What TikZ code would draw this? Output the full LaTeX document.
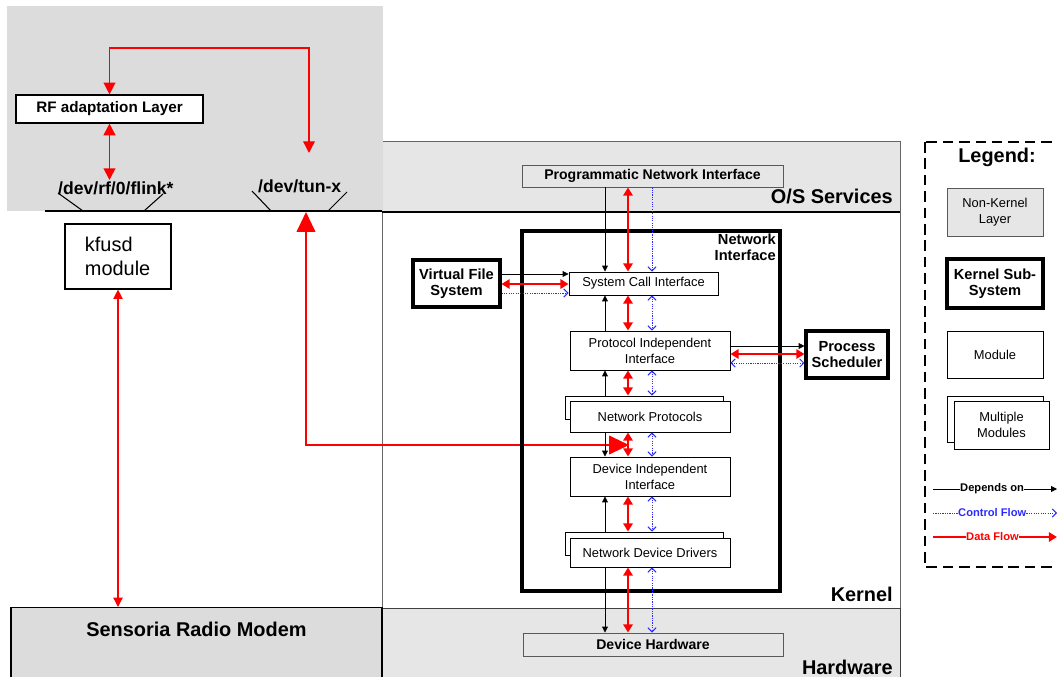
\documentclass[tikz,border=0pt]{standalone}
\usepackage{fontspec}
\setmainfont{Liberation Sans}
\usetikzlibrary{arrows.meta, positioning}

\definecolor{userspace}{HTML}{DCDCDC}
\definecolor{layergray}{HTML}{E6E6E6}
\definecolor{ctrlblue}{HTML}{2B2BFF}

\begin{document}
\begin{tikzpicture}[x=0.03cm, y=-0.03cm,
	module/.style={draw, fill=white, line width=0.8pt, inner sep=0pt, align=center, font=\fontsize{11}{13.5}\selectfont},
	subsys/.style={draw, fill=white, line width=2.6pt, inner sep=0pt, align=center, font=\fontsize{12.5}{13.5}\selectfont\bfseries},
	layerbox/.style={draw=black!65, fill=layergray, line width=0.8pt, inner sep=0pt, align=center},
	banner/.style={inner sep=0pt, font=\fontsize{17}{20}\selectfont\bfseries},
	devfile/.style={inner sep=0pt, anchor=base west, font=\fontsize{15}{17}\selectfont\bfseries},
	keytext/.style={inner sep=0pt, anchor=west, font=\fontsize{9.5}{11}\selectfont\bfseries},
	depends/.style={line width=0.7pt, -{Triangle[length=5pt,width=5pt]}},
	control/.style={ctrlblue, line width=0.8pt, dash pattern=on 1pt off 1pt, {Straight Barb[length=3.5pt,width=7pt]}-{Straight Barb[length=3.5pt,width=7pt]}},
	data/.style={red, line width=1.8pt, {Triangle[length=7pt,width=8pt]}-{Triangle[length=7pt,width=8pt]}},
	rfdata/.style={red, line width=1.3pt, {Triangle[length=10pt,width=10pt]}-{Triangle[length=10pt,width=10pt]}},
	]
	\clip (0,0) rectangle (1058,677);

	% O/S services, kernel and hardware layers
	\filldraw[fill=layergray, draw=black!60, line width=0.8pt] (382,141) rectangle (900,212);
	\draw[black!60, line width=0.8pt] (382,212) rectangle (900,608);
	\filldraw[fill=layergray, draw=black!75, line width=0.8pt] (382,608) rectangle (900,700);
	\draw[line width=0.9pt] (382,212) -- (900,212);

	% user space on top of the device files
	\fill[userspace] (7,6) rectangle (383,211);
	\draw[line width=1.1pt] (45,211) -- (382,211);

	\node[devfile] (flink) at (58,195) {/dev/rf/0/flink*};
	\node[devfile] (tunx) at (258,193) {/dev/tun-x};
	\draw[line width=0.9pt] (58,193) -- (83,211) (144,211) -- (163,194);
	\draw[line width=0.9pt] (252,191) -- (271,211) (328,211) -- (347,192);

	\node[draw, fill=white, line width=1pt, minimum width=5.61cm, minimum height=0.84cm, inner sep=0pt, font=\fontsize{13}{15}\selectfont\bfseries] (rfl) at (109.5,109) {RF adaptation Layer};
	\node[draw, fill=white, line width=1pt, minimum width=3.18cm, minimum height=1.95cm, inner xsep=0.6cm, inner ysep=0pt, text width=1.98cm, align=left, font=\fontsize{17}{20}\selectfont] (kfusd) at (118,256.5) {kfusd\\module};
	\node[anchor=north, draw, fill=userspace, line width=1.1pt, minimum width=11.13cm, inner ysep=0.45cm, text height=12pt, text depth=60pt, font=\fontsize{17}{20}\selectfont\bfseries] (modem) at (196.5,607) {Sensoria Radio Modem};

	\coordinate (looptop) at (309,48);
	\coordinate (tunin) at (309,153);
	\coordinate (flinkin) at (109.5,180);
	\coordinate (tunout) at (306,212);
	\coordinate (tunbend) at (306,445);
	\coordinate (nientry) at (629,445);

	\draw[rfdata, line width=1.2pt] (rfl.north) -- (rfl.north |- looptop) -- (looptop) -- (tunin);
	\draw[rfdata, line width=1.6pt] (rfl.south) -- (flinkin);
	\draw[rfdata, line width=1.1pt, {Triangle[length=8pt,width=8pt]}-{Triangle[length=8pt,width=8pt]}] (kfusd.south) -- (kfusd.south |- modem.north);
	\draw[red, line width=1.2pt, {Triangle[length=17pt,width=16pt]}-{Triangle[length=17pt,width=16pt]}] (tunout) -- (tunbend) -- (nientry);

	% network subsystem
	\node[draw, line width=2.8pt, minimum width=7.74cm, minimum height=10.8cm] (netif) at (651,411) {};
	\node[anchor=north east, align=right, inner sep=0pt, font=\fontsize{12.5}{13}\selectfont\bfseries] (netiflabel) at (776,234) {Network\\Interface};

	\node[layerbox, minimum width=7.83cm, minimum height=0.66cm, font=\fontsize{12}{14}\selectfont\bfseries] (pni) at (652.5,176) {Programmatic Network Interface};
	\node[layerbox, minimum width=7.8cm, minimum height=0.69cm, font=\fontsize{12}{14}\selectfont\bfseries] (dh) at (653,644.5) {Device Hardware};

	\node[subsys, minimum width=2.61cm, minimum height=1.41cm] (vfs) at (456.5,283.5) {Virtual File\\System};
	\node[subsys, minimum width=2.46cm, minimum height=1.41cm] (sched) at (847,354.5) {Process\\Scheduler};

	\node[module, minimum width=4.47cm, minimum height=0.69cm] (sci) at (643.5,283.5) {System Call Interface};
	\node[module, minimum width=4.8cm, minimum height=1.17cm] (pii) at (650,350.5) {Protocol Independent\\Interface};
	\node[module, minimum width=4.74cm, minimum height=0.69cm] (npback) at (644,407.5) {};
	\node[module, minimum width=4.8cm, minimum height=0.93cm] (np) at (650,416.5) {Network Protocols};
	\node[module, minimum width=4.8cm, minimum height=1.17cm] (dii) at (650,476.5) {Device Independent\\Interface};
	\node[module, minimum width=4.74cm, minimum height=0.69cm] (nddback) at (644,543.5) {};
	\node[module, minimum width=4.8cm, minimum height=0.87cm] (ndd) at (650,552.5) {Network Device Drivers};

	\node[banner, anchor=base east] (osserv) at (893,204) {O/S Services};
	\node[banner, anchor=base east] (kernel) at (893,601) {Kernel};
	\node[banner, anchor=base east] (hardware) at (893,674) {Hardware};

	% flows between the modules
	\coordinate (depx) at (605,0);
	\coordinate (datx) at (628,0);
	\coordinate (ctlx) at (652,0);
	\coordinate (vfsdep) at (0,274);
	\coordinate (vfsdat) at (0,284);
	\coordinate (vfsctl) at (0,293);
	\coordinate (schdep) at (0,346);
	\coordinate (schdat) at (0,354);
	\coordinate (schctl) at (0,363);

	\draw[depends] (pni.south -| depx) -- (sci.north -| depx);
	\draw[data] (pni.south -| datx) -- (sci.north -| datx);
	\draw[control, -{Straight Barb[length=3.5pt,width=7pt]}] (pni.south -| ctlx) -- (sci.north -| ctlx);

	\draw[depends] (pii.north -| depx) -- (sci.south -| depx);
	\draw[data] (sci.south -| datx) -- (pii.north -| datx);
	\draw[control] (sci.south -| ctlx) -- (pii.north -| ctlx);

	\draw[depends] (npback.north -| depx) -- (pii.south -| depx);
	\draw[data] (pii.south -| datx) -- (npback.north -| datx);
	\draw[control] (pii.south -| ctlx) -- (npback.north -| ctlx);

	\draw[depends] (np.south -| depx) -- (dii.north -| depx);
	\draw[data] (np.south -| datx) -- (dii.north -| datx);
	\draw[control] (np.south -| ctlx) -- (dii.north -| ctlx);

	\draw[depends] (nddback.north -| depx) -- (dii.south -| depx);
	\draw[data] (dii.south -| datx) -- (nddback.north -| datx);
	\draw[control] (dii.south -| ctlx) -- (nddback.north -| ctlx);

	\draw[depends] (ndd.south -| depx) -- (dh.north -| depx);
	\draw[data] (ndd.south -| datx) -- (dh.north -| datx);
	\draw[control] (ndd.south -| ctlx) -- (dh.north -| ctlx);

	\draw[depends] (vfs.east |- vfsdep) -- (sci.west |- vfsdep);
	\draw[data] (vfs.east |- vfsdat) -- (sci.west |- vfsdat);
	\draw[control, -{Straight Barb[length=3.5pt,width=7pt]}] (vfs.east |- vfsctl) -- (sci.west |- vfsctl);

	\draw[depends] (pii.east |- schdep) -- (sched.west |- schdep);
	\draw[data] (pii.east |- schdat) -- (sched.west |- schdat);
	\draw[control] (pii.east |- schctl) -- (sched.west |- schctl);

	% legend
	\draw[line width=2.2pt, dash pattern=on 9pt off 5pt] (925,142) rectangle (1080,567);
	\node[banner, anchor=base] (legend) at (997,163) {Legend:};
	\node[layerbox, minimum width=2.88cm, minimum height=1.44cm, font=\fontsize{11}{13.5}\selectfont] (lnonkernel) at (995,212) {Non-Kernel\\Layer};
	\node[subsys, minimum width=2.88cm, minimum height=1.47cm] (lsubsys) at (995,283.5) {Kernel Sub-\\System};
	\node[module, minimum width=2.88cm, minimum height=1.41cm] (lmodule) at (995,354.5) {Module};
	\node[module, minimum width=2.88cm, minimum height=1.38cm] (lmultiback) at (995,419) {};
	\node[module, minimum width=2.85cm, minimum height=1.44cm] (lmulti) at (1001.5,425) {Multiple\\Modules};

	\coordinate (ldepstart) at (933,489);
	\coordinate (ldepend) at (1057,489);
	\coordinate (lctlstart) at (933,513);
	\coordinate (lctlend) at (1057,513);
	\coordinate (ldatstart) at (933,537);
	\coordinate (ldatend) at (1057,537);
	\node[keytext] (ldep) at (960,489) {Depends on};
	\node[keytext, text=ctrlblue] (lctl) at (958,513) {Control Flow};
	\node[keytext, text=red] (ldat) at (966,537) {Data Flow};
	\draw[line width=0.7pt] (ldepstart) -- (ldep.west);
	\draw[depends] (ldep.east) -- (ldepend);
	\draw[control, -] (lctlstart) -- (lctl.west);
	\draw[control, -{Straight Barb[length=3.5pt,width=7pt]}] (lctl.east) -- (lctlend);
	\draw[red, line width=1.8pt] (ldatstart) -- (ldat.west);
	\draw[red, line width=1.8pt, -{Triangle[length=7pt,width=8pt]}] (ldat.east) -- (ldatend);
\end{tikzpicture}
\end{document}
